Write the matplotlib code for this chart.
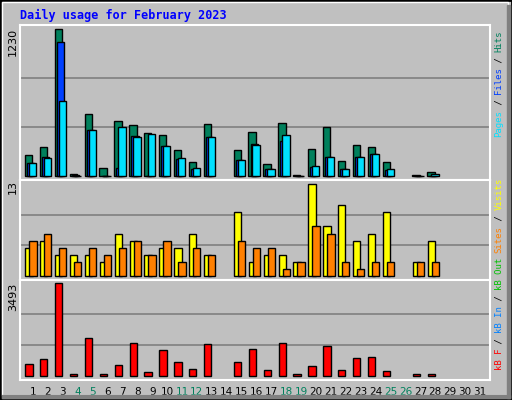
import matplotlib
matplotlib.use("Agg")
import matplotlib.pyplot as plt
from matplotlib.patches import Rectangle
import numpy as np

days = list(range(1, 32))
hits  = [176,243,1230,15,519,67,460,427,360,343,218,117,435,0,218,368,100,444,8,226,410,125,260,243,117,0,8,33,0,0,0]
files = [109,159,1121,5,385,3,67,335,3,251,142,59,326,0,134,268,59,293,0,75,159,59,159,184,50,0,0,3,0,0,0]
pages = [109,151,628,3,385,2,410,326,352,251,151,67,326,0,134,260,59,343,0,84,159,59,159,184,59,0,0,17,0,0,0]
visits = [4,5,3,3,3,2,6,5,3,4,4,6,3,0,9,2,3,3,2,13,7,10,5,6,9,0,2,5,0,0,0]
sites  = [5,6,4,2,4,3,4,5,3,5,2,4,3,0,5,4,4,1,2,7,6,2,1,2,2,0,2,2,0,0,0]
kbytes = [433,625,3493,60,1428,60,395,1237,166,969,510,280,1198,0,510,1007,242,1237,60,357,1122,242,663,701,204,0,60,60,0,0,0]
weekend = [4,5,11,12,18,19,25,26]
active = [1 if h > 0 else 0 for h in hits]

BG = "#C0C0C0"
W, H = 512, 400
fig = plt.figure(figsize=(W/100, H/100), dpi=100, facecolor=BG)

def rect(y0, y1):
    return [20/W, 1 - y1/H, 470/W, (y1 - y0)/H]

x0 = 1 - 13/14.9
x1 = 31 + 10/14.9
mono = "DejaVu Sans Mono"

def setup(ax, top_px, base_px, y0, y1, vmax, grids):
    ax.set_facecolor(BG)
    ax.set_xlim(x0, x1)
    scale = vmax / (base_px - top_px)
    ax.set_ylim(-(y1 - base_px) * scale, vmax + (top_px - y0) * scale)
    for g in grids:
        ax.axhline(g, color="#808080", lw=1.2, zorder=0)
    ax.set_xticks([]); ax.set_yticks([])
    for s in ax.spines.values():
        s.set_color("white"); s.set_linewidth(1.5)

a1 = fig.add_axes(rect(25, 180))
setup(a1, 29, 176, 25, 180, 1230, [410, 820])
a2 = fig.add_axes(rect(180, 280))
setup(a2, 184, 276, 180, 280, 13, [13/3, 26/3])
a3 = fig.add_axes(rect(280, 380))
setup(a3, 283, 376, 280, 380, 3493, [3493/3, 2*3493/3])

d = np.array([x for x, a in zip(days, active) if a])
def sel(v):
    return [x for x, a in zip(v, active) if a]

kw = dict(width=0.49, align="edge", edgecolor="black", linewidth=1)
a1.bar(d - 0.54, sel(hits), color="#00805C", **kw)
a1.bar(d - 0.40, sel(files), color="#0040FF", **kw)
a1.bar(d - 0.27, sel(pages), color="#00E0FF", **kw)
a2.bar(d - 0.52, sel(visits), color="#FFFF00", **kw)
a2.bar(d - 0.25, sel(sites), color="#FF8000", **kw)
a3.bar(d - 0.52, sel(kbytes), color="#FF0000", **kw)

for dd in days:
    a3.text(dd, -0.07, str(dd), transform=a3.get_xaxis_transform(), ha="center", va="top",
            fontsize=7.5, color="#00805C" if dd in weekend else "black", family="DejaVu Sans")

fig.text(20/W, 1 - 15/H, "Daily usage for February 2023", color="#0000FF", fontsize=8.5,
         fontweight="bold", family=mono, va="center", ha="left")
for lab, ytop in [("1230", 28), ("13", 180), ("3493", 283)]:
    fig.text(13/W, 1 - ytop/H, lab, rotation=90, fontsize=8, va="top", ha="center", family="DejaVu Sans")

def vtext(runs, ystart):
    y = ystart
    for txt, col in runs:
        fig.text(499/W, 1 - y/H, txt, rotation=90, color=col, fontsize=6.5, family=mono,
                 ha="center", va="bottom")
        y -= 5.33 * len(txt)

vtext([("Pages", "#00E0FF"), (" / ", "black"), ("Files", "#0040FF"), (" / ", "black"), ("Hits", "#00805C")], 137)
vtext([("kB F", "#FF0000"), (" / ", "black"), ("kB In", "#0080FF"), (" / ", "black"), ("kB Out", "#00C000"),
       (" ", "black"), ("Sites", "#FF8000"), (" / ", "black"), ("Visits", "#FFFF00")], 370)

fig.patches.append(Rectangle((0, 0), 1, 1, transform=fig.transFigure, fill=False, edgecolor="black", lw=2))
fig.patches.append(Rectangle((2/W, 5/H), 506/W, 393/H, transform=fig.transFigure, fill=False, edgecolor="white", lw=1))
fig.patches.append(Rectangle((507/W, 2/H), 3/W, 393/H, transform=fig.transFigure, color="#808080"))
fig.patches.append(Rectangle((2/W, 2/H), 508/W, 3/H, transform=fig.transFigure, color="#808080"))

fig.savefig("out.png", dpi=100, facecolor=BG)
